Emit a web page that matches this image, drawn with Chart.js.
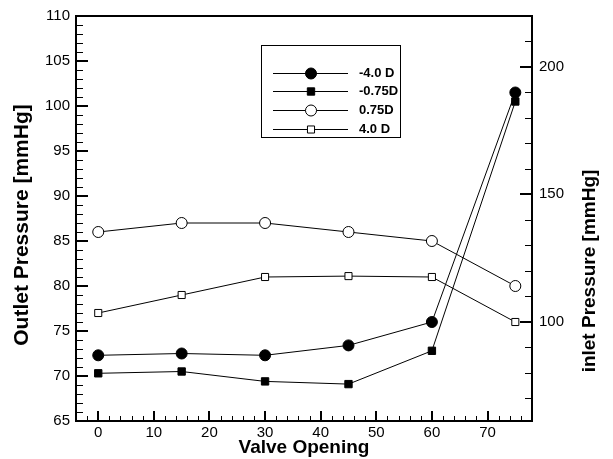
<!DOCTYPE html>
<html>
<head>
<meta charset="utf-8">
<script src="https://cdn.jsdelivr.net/npm/chart.js@4/dist/chart.umd.min.js"></script>
</head>
<body style="margin:0; background:#fff">
<canvas id="pressureChart" width="613" height="459"></canvas>
<script>
// values
const valveOpening = [0, 15, 30, 45, 60, 75];
const seriesNames = ["-4.0 D", "-0.75D", "0.75D", "4.0 D"];
const minus40 = [72.3, 72.5, 72.3, 73.4, 76.0, 101.5];
const minus075 = [70.3, 70.5, 69.4, 69.1, 72.8, 100.5];
const plus075 = [86.0, 87.0, 87.0, 86.0, 85.0, 80.0];
const plus40 = [77.0, 79.0, 81.0, 81.1, 81.0, 76.0];

const xTicks = [0, 10, 20, 30, 40, 50, 60, 70];
const leftTicks = [65, 70, 75, 80, 85, 90, 95, 100, 105, 110];
const rightTicks = [100, 150, 200];

const FONT = "'Liberation Sans', Arial, Helvetica, sans-serif";

function pts(ys) {
    return valveOpening.map((x, i) => ({ x: x, y: ys[i] }));
}

const styles = [
    { pointStyle: "circle", pointRadius: 5.5, fill: "#000" },
    { pointStyle: "rect", pointRadius: 5.2, fill: "#000" },
    { pointStyle: "circle", pointRadius: 5.5, fill: "#fff" },
    { pointStyle: "rect", pointRadius: 5, fill: "#fff" }
];

const datasets = [minus40, minus075, plus075, plus40].map((ys, i) => ({
    label: seriesNames[i],
    data: pts(ys),
    borderColor: "#000",
    borderWidth: 1,
    pointStyle: styles[i].pointStyle,
    pointRadius: styles[i].pointRadius,
    pointBackgroundColor: styles[i].fill,
    pointBorderColor: "#000",
    pointBorderWidth: 1,
    showLine: true,
    yAxisID: "y"
}));

// inward ticks, drawn as thin filled bars
function drawTicks(chart) {
    const c = chart.ctx, a = chart.chartArea;
    const sx = chart.scales.x, sy = chart.scales.y, sr = chart.scales.y2;
    c.save();
    c.fillStyle = "#000";
    for (let v = 65; v <= 110; v++) {
        const p = Math.round(sy.getPixelForValue(v));
        if (v % 5 === 0) c.fillRect(a.left - 1, p - 1, 13, 2);
        else c.fillRect(a.left - 1, p, 8, 1);
    }
    for (let v = 70; v <= 220; v += 10) {
        const p = Math.round(sr.getPixelForValue(v));
        if (v % 50 === 0) c.fillRect(a.right - 12, p - 1, 13, 2);
        else c.fillRect(a.right - 7, p, 8, 1);
    }
    for (let v = -4; v <= 78; v += 2) {
        const p = Math.round(sx.getPixelForValue(v));
        if (v % 10 === 0) c.fillRect(p - 1, a.bottom - 10, 2, 11);
        else c.fillRect(p, a.bottom - 5, 1, 6);
    }
    c.restore();
}

// titles, frame and the boxed legend
const decorations = {
    id: "decorations",
    afterDatasetsDraw(chart) {
        drawTicks(chart);
    },
    afterDraw(chart) {
        const c = chart.ctx, a = chart.chartArea;
        c.save();
        c.fillStyle = "#000";
        c.textAlign = "center";
        c.textBaseline = "middle";
        c.font = "bold 19px " + FONT;
        c.fillText("Valve Opening", (a.left + a.right) / 2, 448);
        c.save();
        c.translate(590, 271);
        c.rotate(-Math.PI / 2);
        c.fillText("inlet Pressure [mmHg]", 0, 0);
        c.restore();
        c.font = "bold 21px " + FONT;
        c.save();
        c.translate(22, 225);
        c.rotate(-Math.PI / 2);
        c.fillText("Outlet Pressure [mmHg]", 0, 0);
        c.restore();
        c.restore();

        drawTicks(chart);

        c.save();
        c.strokeStyle = "#000";
        c.lineWidth = 2;
        c.strokeRect(a.left, a.top, a.right - a.left, a.bottom - a.top);

        // legend
        c.lineWidth = 1;
        c.fillStyle = "#fff";
        c.fillRect(261.5, 45.5, 139, 92);
        c.strokeRect(261.5, 45.5, 139, 92);
        const rows = [73, 91, 110, 129];
        c.font = "bold 13px " + FONT;
        c.textAlign = "left";
        c.textBaseline = "middle";
        chart.data.datasets.forEach((ds, i) => {
            const y = rows[i] + 0.5;
            c.fillStyle = "#000";
            c.fillRect(273, rows[i], 75, 1);
            c.fillStyle = ds.pointBackgroundColor;
            Chart.helpers.drawPoint(c, {
                pointStyle: ds.pointStyle,
                radius: ds.pointRadius,
                rotation: 0,
                borderWidth: 1
            }, 311, y);
            c.fillStyle = "#000";
            c.fillText(ds.label, 359, y);
        });
        c.restore();
    }
};

new Chart(document.getElementById("pressureChart"), {
    type: "scatter",
    data: { datasets: datasets },
    options: {
        responsive: false,
        animation: false,
        layout: { padding: { top: 13 } },
        plugins: {
            legend: { display: false },
            tooltip: { enabled: false }
        },
        scales: {
            x: {
                type: "linear",
                min: -4,
                max: 78,
                afterFit(s) { s.height = 38; },
                afterBuildTicks(s) { s.ticks = xTicks.map(v => ({ value: v })); },
                grid: { display: false, drawTicks: false },
                border: { display: false },
                ticks: { color: "#000", font: { family: FONT, size: 15 }, padding: 3, maxRotation: 0 }
            },
            y: {
                min: 65,
                max: 110,
                afterFit(s) { s.width = 76; },
                afterBuildTicks(s) { s.ticks = leftTicks.map(v => ({ value: v })); },
                grid: { display: false, drawTicks: false },
                border: { display: false },
                ticks: { color: "#000", font: { family: FONT, size: 15 }, padding: 6 }
            },
            y2: {
                position: "right",
                min: 61,
                max: 220,
                afterFit(s) { s.width = 81; },
                afterBuildTicks(s) { s.ticks = rightTicks.map(v => ({ value: v })); },
                grid: { display: false, drawTicks: false },
                border: { display: false },
                ticks: { color: "#000", font: { family: FONT, size: 15 }, padding: 7 }
            }
        }
    },
    plugins: [decorations]
});
</script>
</body>
</html>
